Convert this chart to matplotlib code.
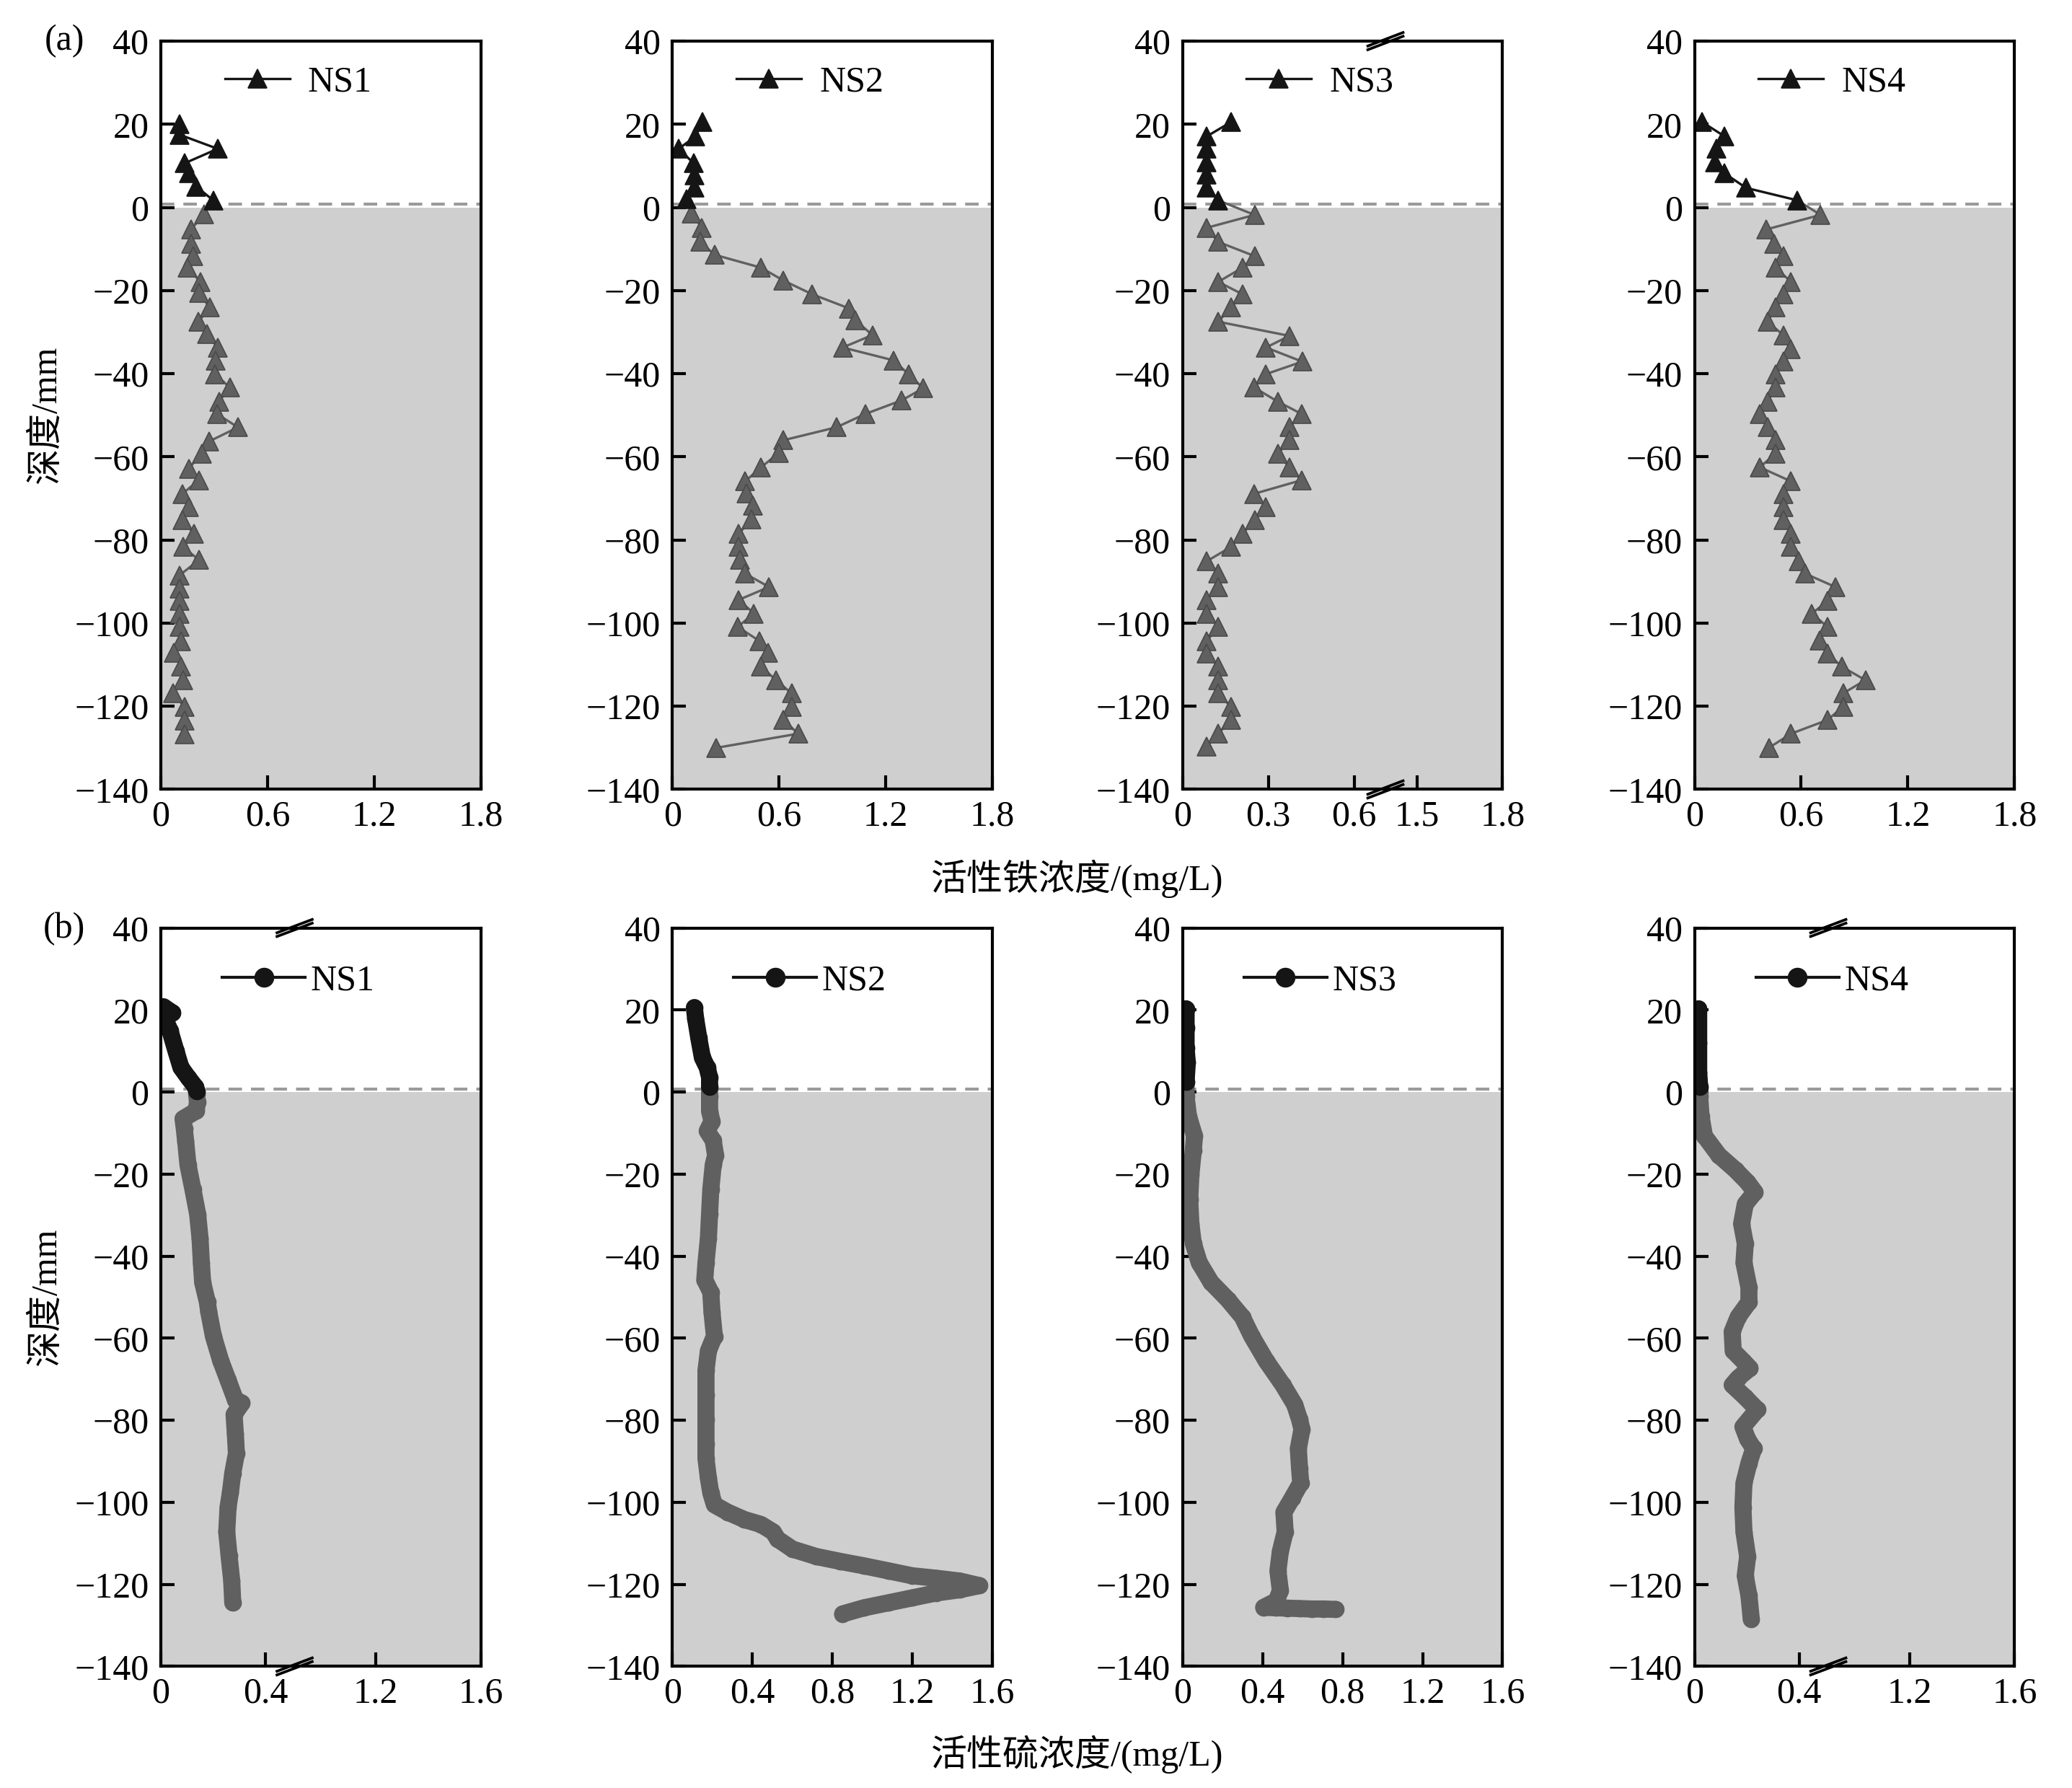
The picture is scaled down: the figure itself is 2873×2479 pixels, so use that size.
import numpy as np
import matplotlib
matplotlib.use("Agg")
import matplotlib.pyplot as plt
from matplotlib.lines import Line2D

plt.rcParams['font.family'] = ['Liberation Serif', 'Noto Sans CJK SC']
plt.rcParams['axes.unicode_minus'] = True

# ---------------- data: panel (a) active Fe (depth mm, conc mg/L) ----------------
SITES = ["NS1", "NS2", "NS3", "NS4"]

FE_NS1_Y = [20.1, 17.5, 14.1, 10.6, 8.2, 5.0, 1.7,
            -1.6, -5.3, -8.7, -11.7, -14.5, -17.9, -20.6, -24.1, -27.5, -30.5,
            -33.7, -36.8, -40.1, -43.3, -46.7, -49.7, -52.9, -56.3, -59.3, -62.8,
            -65.6, -68.9, -72.1, -75.2, -78.5, -81.7, -84.8, -88.5, -91.7, -94.7,
            -97.7, -100.9, -104.3, -107.1, -110.5, -113.7, -116.9, -120.1, -123.5, -126.7]
FE_NS1_X = [0.105, 0.105, 0.32, 0.133, 0.157, 0.20, 0.295,
            0.244, 0.17, 0.17, 0.183, 0.151, 0.222, 0.216, 0.275, 0.212, 0.258,
            0.32, 0.308, 0.305, 0.388, 0.327, 0.317, 0.434, 0.271, 0.23, 0.157,
            0.216, 0.12, 0.157, 0.12, 0.188, 0.124, 0.216, 0.105, 0.105, 0.105,
            0.105, 0.105, 0.114, 0.074, 0.114, 0.124, 0.068, 0.133, 0.133, 0.133]

FE_NS2_Y = [20.5, 17.1, 14.1, 10.6, 7.8, 4.7, 2.0,
            -1.4, -4.9, -8.3, -11.4, -14.5, -17.6, -20.9, -24.3, -27.2, -30.7,
            -33.7, -36.8, -40.1, -43.5, -46.4, -49.7, -52.9, -56.0, -59.1, -62.5,
            -65.9, -68.7, -71.8, -75.1, -78.5, -81.7, -84.8, -88.1, -91.3, -94.4,
            -97.7, -100.9, -104.3, -107.1, -110.5, -113.7, -116.9, -120.1, -123.3, -126.6,
            -130.0]
FE_NS2_X = [0.169, 0.13, 0.036, 0.12, 0.126, 0.126, 0.081,
            0.108, 0.166, 0.157, 0.238, 0.499, 0.625, 0.787, 0.994, 1.03, 1.125,
            0.958, 1.245, 1.327, 1.411, 1.29, 1.084, 0.922, 0.625, 0.598, 0.499,
            0.409, 0.418, 0.454, 0.445, 0.373, 0.373, 0.378, 0.409, 0.544, 0.373,
            0.459, 0.367, 0.49, 0.538, 0.499, 0.583, 0.67, 0.67, 0.625, 0.707,
            0.247]

FE_NS3_Y = [20.5, 17.1, 14.1, 10.9, 7.9, 4.7, 1.7,
            -1.8, -4.9, -8.3, -11.7, -14.5, -17.9, -20.9, -24.1, -27.5, -30.9,
            -33.7, -37.1, -40.1, -43.3, -46.7, -49.7, -52.9, -56.0, -59.3, -62.5,
            -65.6, -68.9, -72.1, -75.2, -78.5, -81.7, -85.1, -88.1, -91.3, -94.4,
            -97.7, -100.9, -104.3, -107.3, -110.5, -113.7, -116.9, -120.1, -123.3, -126.6,
            -129.7]
FE_NS3_X = [0.169, 0.085, 0.085, 0.085, 0.085, 0.085, 0.125,
            0.252, 0.085, 0.125, 0.252, 0.21, 0.125, 0.21, 0.169, 0.125, 0.374,
            0.292, 0.419, 0.292, 0.25, 0.333, 0.417, 0.374, 0.374, 0.333, 0.374,
            0.417, 0.25, 0.292, 0.252, 0.21, 0.169, 0.085, 0.125, 0.125, 0.085,
            0.085, 0.125, 0.085, 0.085, 0.125, 0.125, 0.125, 0.169, 0.169, 0.125,
            0.085]

FE_NS4_Y = [20.5, 17.1, 14.1, 10.9, 8.2, 4.7, 1.7,
            -1.8, -5.3, -8.7, -11.7, -14.5, -17.9, -20.9, -24.1, -27.5, -30.7,
            -34.0, -37.1, -40.1, -43.3, -46.7, -49.7, -52.9, -56.0, -59.3, -62.5,
            -65.9, -68.9, -72.1, -75.2, -78.5, -81.7, -85.1, -88.1, -91.3, -94.7,
            -97.7, -100.9, -104.1, -107.3, -110.5, -113.7, -116.9, -120.1, -123.3, -126.6,
            -130.0]
FE_NS4_X = [0.044, 0.169, 0.125, 0.117, 0.169, 0.29, 0.579,
            0.709, 0.403, 0.447, 0.499, 0.455, 0.543, 0.499, 0.455, 0.411, 0.499,
            0.543, 0.499, 0.455, 0.455, 0.411, 0.367, 0.411, 0.455, 0.455, 0.367,
            0.543, 0.499, 0.499, 0.499, 0.543, 0.543, 0.587, 0.623, 0.792, 0.748,
            0.66, 0.748, 0.704, 0.748, 0.829, 0.961, 0.836, 0.836, 0.748, 0.543,
            0.418]

# ---------------- data: panel (b) active S ----------------
S_NS1_Y = [20.8, 19.3, 18.0, 15.0, 10.0, 6.0, 3.6, 1.3, 0.2,
           -0.5, -2.5, -4.6, -6.5, -9.0, -12.0, -17.8, -23.8, -29.8, -35.7,
           -41.6, -46.4, -51.2, -53.5, -59.5, -65.5, -70.2, -75.0, -75.8, -78.6,
           -83.4, -88.1, -92.9, -97.6, -101.2, -107.2, -113.1, -119.1, -124.5]
S_NS1_X = [0.010, 0.045, 0.015, 0.035, 0.058, 0.077, 0.104, 0.132, 0.137,
           0.137, 0.14, 0.135, 0.085, 0.09, 0.095, 0.104, 0.123, 0.141, 0.15,
           0.155, 0.16, 0.178, 0.183, 0.201, 0.229, 0.257, 0.285, 0.31, 0.28,
           0.285, 0.289, 0.275, 0.266, 0.257, 0.252, 0.261, 0.271, 0.275]

S_NS2_Y = [20.6, 18.0, 13.2, 8.4, 6.0, 3.6, 1.3,
           -1.1, -4.7, -7.1, -9.5, -11.8, -15.4, -17.8, -23.8, -29.7, -35.7,
           -41.6, -45.8, -48.8, -53.6, -59.5, -63.1, -67.9, -73.8, -79.8, -85.7,
           -89.3, -94.1, -97.7, -100.6, -102.4, -104.2, -105.4, -107.2, -109.0, -111.4,
           -113.2, -114.4, -115.5, -116.7, -117.9, -118.5, -119.2, -120.3, -121.3, -122.1,
           -123.3, -124.5, -125.7, -127.2]
S_NS2_X = [0.11, 0.116, 0.132, 0.15, 0.174, 0.186, 0.186,
           0.186, 0.186, 0.198, 0.174, 0.204, 0.216, 0.204, 0.192, 0.186, 0.18,
           0.168, 0.162, 0.192, 0.198, 0.21, 0.18, 0.168, 0.168, 0.168, 0.168,
           0.168, 0.18, 0.192, 0.21, 0.276, 0.36, 0.443, 0.503, 0.527, 0.6,
           0.719, 0.839, 0.959, 1.079, 1.198, 1.318, 1.438, 1.534, 1.438, 1.318,
           1.198, 1.079, 0.959, 0.851]

S_NS3_Y = [20.3, 15.6, 10.8, 7.2, 2.5,
           -1.1, -5.9, -10.7, -14.2, -20.2, -26.2, -32.1, -36.9, -41.6, -46.4,
           -50.6, -54.8, -59.5, -65.5, -71.4, -76.2, -79.8, -82.2, -86.9, -91.7,
           -95.3, -98.9, -102.4, -107.2, -112.0, -116.7, -121.5, -124.0, -125.6, -125.7,
           -125.8, -125.9, -126.0, -126.0, -126.1]
S_NS3_X = [0.018, 0.018, 0.018, 0.024, 0.018,
           0.018, 0.03, 0.06, 0.054, 0.042, 0.036, 0.042, 0.054, 0.084, 0.143,
           0.227, 0.299, 0.346, 0.418, 0.502, 0.561, 0.585, 0.597, 0.579, 0.585,
           0.591, 0.549, 0.507, 0.513, 0.489, 0.477, 0.489, 0.47, 0.406, 0.466,
           0.525, 0.585, 0.645, 0.705, 0.764]

S_NS4_Y = [20.3, 11.9, 4.8, 1.3,
           -1.1, -5.9, -10.7, -15.4, -19.0, -22.0, -24.4, -27.3, -32.1, -36.9,
           -41.6, -47.6, -51.2, -54.8, -58.4, -63.1, -65.5, -67.3, -69.7, -71.4,
           -74.4, -77.4, -81.6, -84.6, -86.9, -90.5, -95.3, -101.2, -107.2, -113.2,
           -117.9, -122.7, -128.5]
S_NS4_X = [0.016, 0.016, 0.016, 0.02,
           0.02, 0.025, 0.038, 0.093, 0.157, 0.203, 0.231, 0.194, 0.18, 0.194,
           0.189, 0.208, 0.208, 0.167, 0.144, 0.148, 0.185, 0.212, 0.167, 0.144,
           0.194, 0.24, 0.185, 0.203, 0.226, 0.208, 0.189, 0.185, 0.189, 0.203,
           0.194, 0.208, 0.217]

FE_X = [FE_NS1_X, FE_NS2_X, FE_NS3_X, FE_NS4_X]
FE_Y = [FE_NS1_Y, FE_NS2_Y, FE_NS3_Y, FE_NS4_Y]
S_X = [S_NS1_X, S_NS2_X, S_NS3_X, S_NS4_X]
S_Y = [S_NS1_Y, S_NS2_Y, S_NS3_Y, S_NS4_Y]

FE_TICKS = [[0, 0.6, 1.2, 1.8], [0, 0.6, 1.2, 1.8], [0, 0.3, 0.6, 1.5, 1.8], [0, 0.6, 1.2, 1.8]]
S_TICKS = [[0, 0.4, 1.2, 1.6], [0, 0.4, 0.8, 1.2, 1.6], [0, 0.4, 0.8, 1.2, 1.6], [0, 0.4, 1.2, 1.6]]
Y_TICKS = [-140, -120, -100, -80, -60, -40, -20, 0, 20, 40]

XLABEL_A = "活性铁浓度/(mg/L)"
XLABEL_B = "活性硫浓度/(mg/L)"
YLABEL = "深度/mm"

# broken-axis mappings (data value -> axis fraction), None = linear
FE_BREAK = [None, None, ([0, 0.6, 1.5, 1.8], [0, 0.536, 0.733, 1.0]), None]
S_BREAK = [([0, 0.4, 1.2, 1.6], [0, 0.327, 0.672, 1.0]), None, None,
           ([0, 0.4, 1.2, 1.6], [0, 0.327, 0.672, 1.0])]
FE_BREAK_POS = [None, None, 0.634, None]
S_BREAK_POS = [0.418, None, None, 0.418]

BLACK = '#151515'
GRAY = '#606060'
SHADE = '#cfcfcf'
FS = 12

fig = plt.figure(figsize=(2873 / 300, 2479 / 300), dpi=300)
LEFTS = [0.0776, 0.3245, 0.5707, 0.8178]
W = 0.1545
ROWS = [(0.5585, 0.4185), (0.0680, 0.4130)]


def set_break_scale(ax, brk):
    xp, fp = brk
    xp = np.array(xp, float)
    fp = np.array(fp, float) * xp[-1]

    def fwd(v):
        return np.interp(v, xp, fp)

    def inv(v):
        return np.interp(v, fp, xp)
    ax.set_xscale('function', functions=(fwd, inv))


def break_marks(ax, xf):
    for y0 in (0.0, 1.0):
        for d in (-0.0025, 0.0025):
            ax.plot([xf - 0.055, xf + 0.055], [y0 - 0.009 + d, y0 + 0.009 + d],
                    transform=ax.transAxes, clip_on=False, color='k', lw=0.9, zorder=10)


def style_axes(ax, xmax, ticks):
    ax.set_ylim(-140, 40)
    ax.set_xlim(0, xmax)
    ax.axhspan(-140, 0, color=SHADE, zorder=0, lw=0)
    ax.axhline(0.8, color='#9a9a9a', lw=1.0, ls=(0, (4.5, 3.0)), zorder=1)
    ax.set_yticks(Y_TICKS)
    ax.set_xticks(ticks)
    ax.set_xticklabels([f"{t:g}" for t in ticks])
    ax.tick_params(axis='both', direction='in', length=4.6, width=1.0,
                   labelsize=FS, top=False, right=False)
    ax.tick_params(axis='x', pad=3.5)
    ax.tick_params(axis='y', pad=4)
    for s in ax.spines.values():
        s.set_linewidth(1.0)
        s.set_zorder(5)


def split(xs, ys):
    xb = [x for x, y in zip(xs, ys) if y > 0]
    yb = [y for y in ys if y > 0]
    xg = [x for x, y in zip(xs, ys) if y <= 0]
    yg = [y for y in ys if y <= 0]
    return xb, yb, xg, yg


# ---------------- panel (a) ----------------
for i in range(4):
    bottom, h = ROWS[0]
    ax = fig.add_axes([LEFTS[i], bottom, W, h])
    if FE_BREAK[i] is not None:
        set_break_scale(ax, FE_BREAK[i])
    style_axes(ax, 1.8, FE_TICKS[i])
    xb, yb, xg, yg = split(FE_X[i], FE_Y[i])
    ax.plot([xb[-1]] + xg, [yb[-1]] + yg, color=GRAY, lw=0.8, zorder=2)
    ax.plot(xg, yg, ls='none', marker='^', ms=6.3, mfc=GRAY, mec='#4a4a4a',
            mew=0.4, zorder=3)
    ln, = ax.plot(xb, yb, color=BLACK, lw=0.8, marker='^', ms=6.3, mfc=BLACK,
                  mec=BLACK, mew=0.4, zorder=4)
    ax.legend([ln], [SITES[i]], loc='center', bbox_to_anchor=(0.43, 0.945),
              frameon=False, handlelength=1.8, handletextpad=0.5, numpoints=1,
              fontsize=FS, borderpad=0, borderaxespad=0)
    if FE_BREAK_POS[i] is not None:
        break_marks(ax, FE_BREAK_POS[i])

# ---------------- panel (b) ----------------
LW_B = 5.7
for i in range(4):
    bottom, h = ROWS[1]
    ax = fig.add_axes([LEFTS[i], bottom, W, h])
    if S_BREAK[i] is not None:
        set_break_scale(ax, S_BREAK[i])
    style_axes(ax, 1.6, S_TICKS[i])
    xb, yb, xg, yg = split(S_X[i], S_Y[i])
    ax.plot([xb[-1]] + xg, [yb[-1]] + yg, color=GRAY, lw=LW_B,
            solid_capstyle='round', solid_joinstyle='round', zorder=2)
    ax.plot(xg, yg, ls='none', marker='o', ms=LW_B, mfc=GRAY, mec=GRAY, mew=0,
            zorder=3)
    ax.plot(xb, yb, color=BLACK, lw=LW_B, solid_capstyle='round',
            solid_joinstyle='round', zorder=4)
    ax.plot(xb, yb, ls='none', marker='o', ms=LW_B, mfc=BLACK, mec=BLACK, mew=0,
            zorder=4)
    handle = Line2D([0], [0], color=BLACK, lw=1.0, marker='o', ms=5.6,
                    mfc=BLACK, mec=BLACK)
    ax.legend([handle], [SITES[i]], loc='center', bbox_to_anchor=(0.43, 0.928),
              frameon=False, handlelength=2.3, handletextpad=0.15, numpoints=1,
              fontsize=FS, borderpad=0, borderaxespad=0)
    if S_BREAK_POS[i] is not None:
        break_marks(ax, S_BREAK_POS[i])

# ---------------- labels ----------------
fig.text(0.52, 0.5085, XLABEL_A, ha='center', va='center', fontsize=FS)
fig.text(0.52, 0.019, XLABEL_B, ha='center', va='center', fontsize=FS)
fig.text(0.0224, ROWS[0][0] + ROWS[0][1] / 2, YLABEL, rotation=90, ha='center',
         va='center', fontsize=FS)
fig.text(0.0224, ROWS[1][0] + ROWS[1][1] / 2, YLABEL, rotation=90, ha='center',
         va='center', fontsize=FS)
fig.text(0.031, 0.977, "(a)", ha='center', va='center', fontsize=FS)
fig.text(0.031, 0.4805, "(b)", ha='center', va='center', fontsize=FS)

fig.savefig("out.png", dpi=300)
